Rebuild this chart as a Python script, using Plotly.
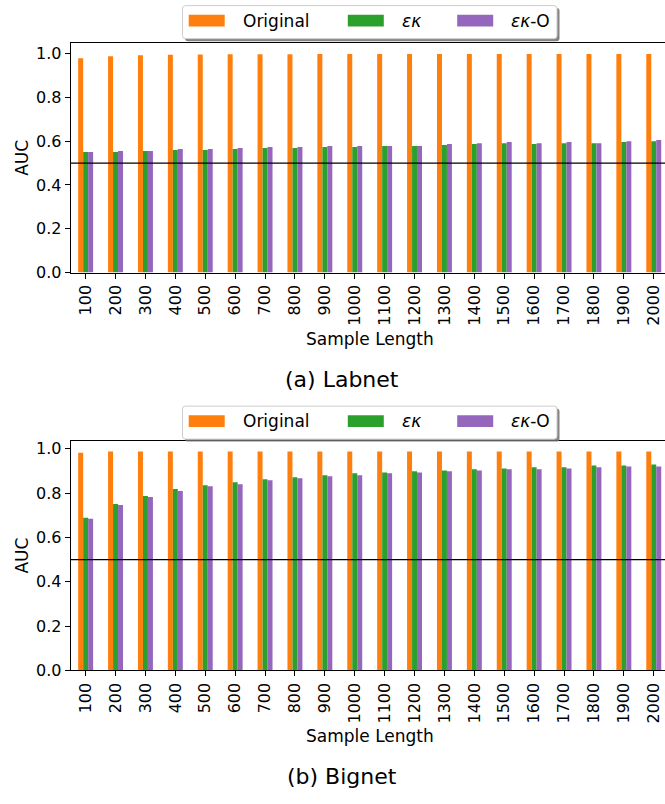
import plotly.graph_objects as go

W, H = 665, 804

# --- data -------------------------------------------------------------
sample_lengths = ["100", "200", "300", "400", "500", "600", "700", "800", "900", "1000",
                  "1100", "1200", "1300", "1400", "1500", "1600", "1700", "1800", "1900", "2000"]

labnet_original = [0.979, 0.988, 0.992, 0.995, 0.996, 0.997, 0.997, 0.997, 0.998, 0.998,
                   0.998, 0.998, 0.998, 0.998, 0.998, 0.998, 0.998, 0.998, 0.998, 0.998]
labnet_ek = [0.551, 0.551, 0.555, 0.560, 0.560, 0.564, 0.569, 0.569, 0.573, 0.573,
             0.578, 0.578, 0.582, 0.587, 0.591, 0.587, 0.591, 0.591, 0.596, 0.600]
labnet_eko = [0.551, 0.555, 0.555, 0.564, 0.564, 0.569, 0.573, 0.573, 0.578, 0.578,
              0.578, 0.578, 0.587, 0.591, 0.596, 0.591, 0.596, 0.591, 0.600, 0.605]

bignet_original = [0.982, 0.987, 0.987, 0.987, 0.987, 0.987, 0.987, 0.987, 0.987, 0.987,
                   0.987, 0.987, 0.987, 0.987, 0.987, 0.987, 0.987, 0.987, 0.987, 0.987]
bignet_ek = [0.688, 0.751, 0.786, 0.818, 0.835, 0.849, 0.862, 0.871, 0.880, 0.889,
             0.893, 0.898, 0.902, 0.907, 0.911, 0.916, 0.916, 0.924, 0.924, 0.929]
bignet_eko = [0.684, 0.746, 0.782, 0.809, 0.831, 0.840, 0.858, 0.867, 0.876, 0.880,
              0.889, 0.893, 0.898, 0.902, 0.907, 0.907, 0.911, 0.916, 0.920, 0.920]

series_names = ["Original", "<i>εκ</i>", "<i>εκ</i>-O"]
series_colors = ["#ff7f0e", "#2ca02c", "#9467bd"]
panel_captions = ["(a) Labnet", "(b) Bignet"]

FONT = "DejaVu Sans"


def px(x):
    return x / W


def py(y):
    return 1 - y / H


# panel geometry in pixels (top, bottom of the plotting area)
panels = [
    dict(top=42.7, bottom=275.3, data=[labnet_original, labnet_ek, labnet_eko]),
    dict(top=445.7, bottom=678.7, data=[bignet_original, bignet_ek, bignet_eko]),
]
left_px = 70.7
cat_px = 29.9
x_end = (W - left_px) / cat_px - 0.5

fig = go.Figure()
shapes = []
annotations = []

for i, p in enumerate(panels):
    xa = "x" if i == 0 else f"x{i + 1}"
    ya = "y" if i == 0 else f"y{i + 1}"
    for name, color, vals in zip(series_names, series_colors, p["data"]):
        fig.add_trace(go.Bar(
            x=sample_lengths, y=vals, name=name, marker=dict(color=color, line=dict(width=0)),
            xaxis=xa, yaxis=ya, showlegend=False,
        ))
    ymax = 1.05 * max(max(v) for v in p["data"])
    axis_common = dict(showline=True, linecolor="black", linewidth=1, ticks="outside",
                       ticklen=5, tickcolor="black", tickfont=dict(family=FONT, size=16, color="black"),
                       showgrid=False, zeroline=False)
    fig.update_layout(**{
        ("xaxis" if i == 0 else f"xaxis{i + 1}"): dict(
            axis_common, domain=[px(left_px), 1.0], range=[-0.5, x_end], type="category",
            tickangle=-90, mirror=True, anchor=ya,
        ),
        ("yaxis" if i == 0 else f"yaxis{i + 1}"): dict(
            axis_common, domain=[py(p["bottom"]), py(p["top"])], range=[0, ymax],
            dtick=0.2, tickformat=".1f", anchor=xa,
        ),
    })

    # reference line at AUC = 0.5
    shapes.append(dict(type="line", xref=f"{xa} domain", x0=0, x1=1, yref=ya, y0=0.5, y1=0.5,
                       line=dict(color="black", width=1.3), layer="above"))

    # axis titles and caption
    mid = (p["top"] + p["bottom"]) / 2
    annotations.append(dict(text="AUC", x=px(22), y=py(mid), xref="paper", yref="paper",
                            textangle=-90, showarrow=False, xanchor="center", yanchor="middle",
                            font=dict(family=FONT, size=17, color="black")))
    annotations.append(dict(text="Sample Length", x=px((left_px + 669) / 2), y=py(p["bottom"] + 67),
                            xref="paper", yref="paper", showarrow=False, xanchor="center",
                            yanchor="middle", font=dict(family=FONT, size=17, color="black")))
    annotations.append(dict(text=panel_captions[i], x=px(341.5), y=py(p["bottom"] + 108),
                            xref="paper", yref="paper", showarrow=False, xanchor="center",
                            yanchor="middle", font=dict(family=FONT, size=22, color="black")))

    # legend box drawn above each panel
    box_top = p["top"] - 38 + (0 if i == 0 else 3)
    box_bot = box_top + 33.5
    bx0, bx1 = 182.5, 557
    r = 3

    def rounded(x0, y0, x1, y1):
        return (f"M {px(x0 + r)} {py(y0)} L {px(x1 - r)} {py(y0)} "
                f"Q {px(x1)} {py(y0)} {px(x1)} {py(y0 + r)} L {px(x1)} {py(y1 - r)} "
                f"Q {px(x1)} {py(y1)} {px(x1 - r)} {py(y1)} L {px(x0 + r)} {py(y1)} "
                f"Q {px(x0)} {py(y1)} {px(x0)} {py(y1 - r)} L {px(x0)} {py(y0 + r)} "
                f"Q {px(x0)} {py(y0)} {px(x0 + r)} {py(y0)} Z")

    shapes.append(dict(type="path", xref="paper", yref="paper",
                       path=rounded(bx0 + 2.5, box_top + 2.5, bx1 + 2.5, box_bot + 2.5),
                       fillcolor="rgba(110,110,110,0.85)", line=dict(width=0), layer="above"))
    shapes.append(dict(type="path", xref="paper", yref="paper",
                       path=rounded(bx0, box_top, bx1, box_bot),
                       fillcolor="white", line=dict(color="#cccccc", width=1), layer="above"))
    cy = (box_top + box_bot) / 2 - 1.5
    item_x = [188.7, 347.8, 457.2]
    for name, color, x0 in zip(series_names, series_colors, item_x):
        shapes.append(dict(type="rect", xref="paper", yref="paper",
                           x0=px(x0), x1=px(x0 + 36), y0=py(cy - 6), y1=py(cy + 6),
                           fillcolor=color, line=dict(width=0), layer="above"))
        annotations.append(dict(text=name, x=px(x0 + 52), y=py(cy), xref="paper", yref="paper",
                                showarrow=False, xanchor="left", yanchor="middle",
                                font=dict(family=FONT, size=17, color="black")))

fig.update_layout(
    width=W, height=H, margin=dict(l=0, r=0, t=0, b=0),
    paper_bgcolor="white", plot_bgcolor="white",
    barmode="group", bargap=0.5, bargroupgap=0,
    shapes=shapes, annotations=annotations,
    font=dict(family=FONT, color="black"),
)

fig.write_html("out.html", config={"displayModeBar": False})
